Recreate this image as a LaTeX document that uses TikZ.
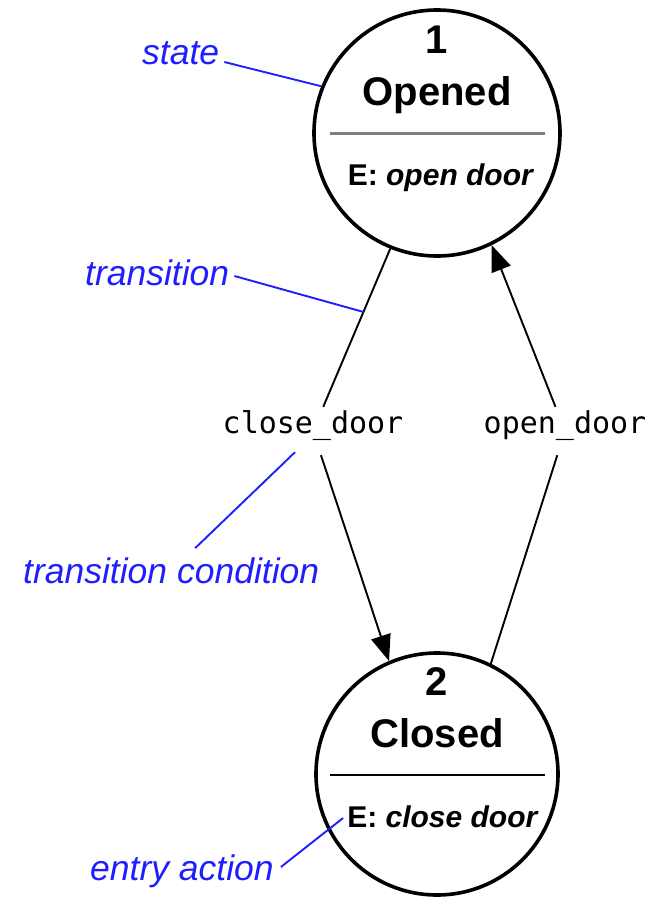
\documentclass[tikz,border=0pt]{standalone}
\usepackage{fontspec}
\setmainfont{Liberation Sans}
\newfontfamily\condmono{DejaVu Sans Mono}
\usetikzlibrary{arrows.meta,calc}
\definecolor{noteblue}{RGB}{30,30,255}
\definecolor{sepgray}{RGB}{125,125,125}
\begin{document}
\begin{tikzpicture}[x=1pt,y=-1pt,
  statecircA/.style={circle, draw, line width=3.6pt, minimum size=246pt, inner sep=0pt},
  statecircB/.style={circle, draw, line width=3.6pt, minimum size=242pt, inner sep=0pt},
  headtxt/.style={font=\bfseries\fontsize{40}{44}\selectfont, inner sep=0pt, anchor=base},
  entrytxt/.style={font=\fontsize{30}{34}\selectfont, inner sep=0pt, anchor=base},
  cond/.style={font=\condmono\fontsize{30}{34}\selectfont, inner xsep=4pt, inner ysep=0pt,
    text height=20pt, text depth=16pt, minimum height=48pt},
  trans/.style={line width=1.9pt},
  arr/.style={-{Triangle[length=26pt,width=20pt]}},
  note/.style={font=\itshape\fontsize{35.5}{40}\selectfont, text=noteblue, inner sep=0pt, anchor=base west},
  noteline/.style={draw=noteblue, line width=1.9pt}
]
\useasboundingbox (0,0) rectangle (666,898);

% states
\node[statecircA] (s1) at (437,133) {};
\node[headtxt] (s1num) at ($(s1.center)+(0,-80)$) {1};
\node[headtxt] (s1name) at ($(s1.center)+(0,-28)$) {Opened};
\draw[sepgray, line width=3pt] ($(s1.center)+(-107,0)$) -- ($(s1.center)+(108,0)$);
\node[entrytxt] (s1entry) at ($(s1.center)+(4,52)$) {\textbf{E:} \textbf{\textit{open door}}};

\node[statecircB] (s2) at (437,774) {};
\node[headtxt] (s2num) at ($(s2.center)+(0,-79)$) {2};
\node[headtxt] (s2name) at ($(s2.center)+(0,-27)$) {Closed};
\draw[line width=1.8pt] ($(s2.center)+(-107,1)$) -- ($(s2.center)+(108,1)$);
\node[entrytxt] (s2entry) at ($(s2.center)+(6,53)$) {\textbf{E:} \textbf{\textit{close door}}};

% transition conditions
\node[cond] (cd) at (313,431) {close\_door};
\node[cond] (od) at (565,431) {open\_door};

% transitions
\draw[trans] (s1.248) -- coordinate[pos=0.4] (tp) (cd);
\draw[trans,arr] (cd) -- (s2.113);
\draw[trans] (s2.64) -- (od);
\draw[trans,arr] (od) -- (s1.296);

% annotations
\node[note] (nstate) at (142,64) {state};
\node[note] (ntrans) at (85,285) {transition};
\node[note] (ncond) at (23,583) {transition condition};
\node[note] (nentry) at (90,880) {entry action};

\draw[noteline] ($(nstate.base east)+(5,-2)$) -- (s1.158.5);
\draw[noteline] ($(ntrans.base east)+(5,-9)$) -- (tp);
\draw[noteline] ($(ncond.north)+(24,-9)$) -- ($(cd.south)+(-18,-3)$);
\draw[noteline] ($(nentry.base east)+(7,-13)$) -- ($(s2entry.base west)+(-4,-9)$);
\end{tikzpicture}
\end{document}
